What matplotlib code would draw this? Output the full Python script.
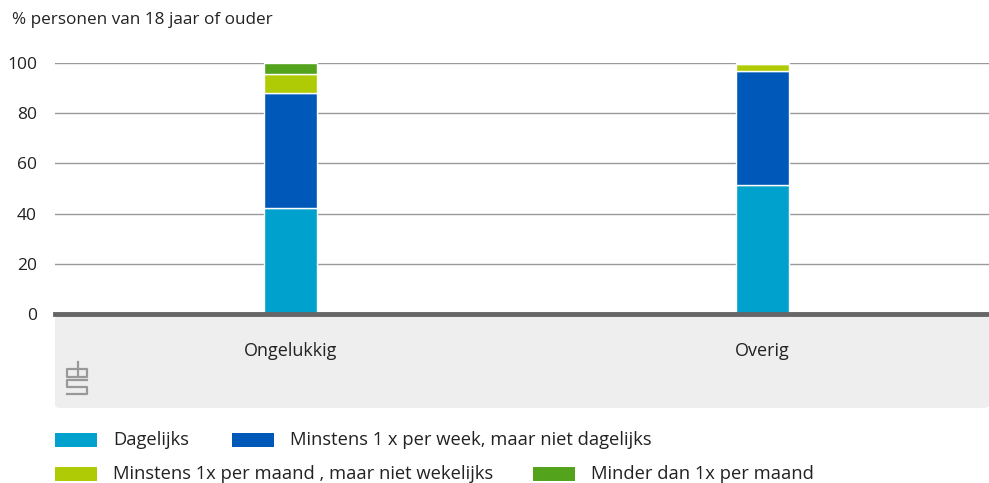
import matplotlib.pyplot as plt
from matplotlib.patches import Rectangle, FancyBboxPatch
import numpy as np

plt.rcParams['font.family'] = ['Open Sans', 'DejaVu Sans']

# data
categories = ["Ongelukkig", "Overig"]
series_names = [
    "Dagelijks",
    "Minstens 1 x per week, maar niet dagelijks",
    "Minstens 1x per maand , maar niet wekelijks",
    "Minder dan 1x per maand",
]
dagelijks = [42.2, 51.4]
wekelijks = [45.8, 45.4]
maandelijks = [7.6, 2.8]
minder = [4.4, 0.4]
colors = ["#00a1cd", "#0058b8", "#afcb05", "#53a31d"]

W, H = 989, 483
fig = plt.figure(figsize=(W / 100, H / 100), dpi=100)

# axes position in pixels
left, right, y0, y100 = 55, 989, 314, 63
ax = fig.add_axes([left / W, 1 - y0 / H, (right - left) / W, (y0 - y100) / H])

# grey panel below the axis
panel = FancyBboxPatch((left / W, 1 - 408 / H), (right - left) / W, (408 - 316) / H,
                       boxstyle="round,pad=0,rounding_size=0.006",
                       transform=fig.transFigure, facecolor="#eeeeee",
                       edgecolor="none", zorder=-1)
fig.patches.append(panel)

x = np.arange(len(categories))
width = 0.112
bottom = np.zeros(len(categories))
for vals, c in zip([dagelijks, wekelijks, maandelijks, minder], colors):
    ax.bar(x, vals, width, bottom=bottom, color=c, edgecolor="white",
           linewidth=1, zorder=3)
    bottom += np.array(vals)

ax.set_xlim(-0.5, 1.48)
ax.set_ylim(0, 100)
ax.set_yticks([0, 20, 40, 60, 80, 100])
ax.tick_params(axis="y", length=0, pad=13, labelsize=12.5, labelcolor="#222222")
ax.grid(axis="y", color="#999999", linewidth=1, zorder=0)
ax.set_axisbelow(True)
for s in ax.spines.values():
    s.set_visible(False)
ax.axhline(0, color="#666666", linewidth=3.5, zorder=4, clip_on=False)
ax.set_xticks(x)
ax.set_xticklabels(categories, fontsize=13, color="#222222")
ax.tick_params(axis="x", length=0, pad=20)
ax.patch.set_alpha(0)

fig.text(12 / W, 1 - 20 / H, "% personen van 18 jaar of ouder", fontsize=12.3,
         color="#222222", va="center", ha="left")

# cbs logo (rough outline)
lx, ly = 67, 362
logo = [
    [(9, 7), (0, 7), (0, 15), (9, 15)],
    [(11, 0), (11, 15), (20, 15), (20, 7), (11, 7)],
    [(20, 18), (0, 18), (0, 25), (20, 25), (20, 32), (0, 32)],
]
for path in logo:
    xs = [(lx + p[0]) / W for p in path]
    ys = [1 - (ly + p[1]) / H for p in path]
    fig.lines.append(plt.Line2D(xs, ys, transform=fig.transFigure,
                                color="#999999", linewidth=1.6))

# legend, laid out like the original flow legend
legend_pos = [(55, 440), (232, 440), (55, 474), (533, 474)]
for (px, py), name, c in zip(legend_pos, series_names, colors):
    fig.patches.append(Rectangle((px / W, 1 - (py + 7) / H), 42 / W, 14 / H,
                                 transform=fig.transFigure, facecolor=c,
                                 edgecolor="none"))
    fig.text((px + 58) / W, 1 - py / H, name, fontsize=13.2, color="#222222",
             va="center", ha="left")

fig.savefig("out.png", dpi=100)
